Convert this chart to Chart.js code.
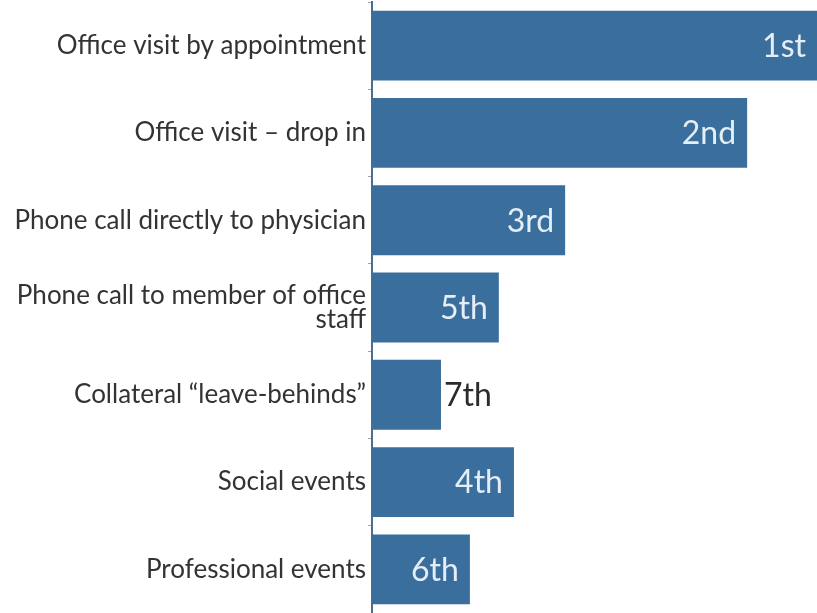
<!DOCTYPE html>
<html>
<head>
<meta charset="utf-8">
<script src="https://cdn.jsdelivr.net/npm/chart.js@4/dist/chart.umd.min.js"></script>
<style>
  html, body { margin: 0; padding: 0; background: #fff; }
  #wrap { width: 817px; height: 613px; }
</style>
</head>
<body>
<div id="wrap"><canvas id="myChart"></canvas></div>
<script>
const categories = [
  "Office visit by appointment",
  "Office visit \u2013 drop in",
  "Phone call directly to physician",
  ["Phone call to member of office", "staff"],
  "Collateral \u201cleave-behinds\u201d",
  "Social events",
  "Professional events"
];
const scores = [100, 84.3, 43.4, 28.5, 15.5, 31.9, 22.0];
const ranks = ["1st", "2nd", "3rd", "5th", "7th", "4th", "6th"];

const BAR = "#3a6e9d";

// rank text at the end of each bar; short bars get it outside in dark grey
const rankLabels = {
  id: "rankLabels",
  afterDatasetsDraw(chart) {
    const ctx = chart.ctx;
    const meta = chart.getDatasetMeta(0);
    ctx.save();
    ctx.font = "32px Lato, 'Open Sans', sans-serif";
    ctx.textBaseline = "middle";
    meta.data.forEach((bar, i) => {
      const txt = ranks[i];
      const w = ctx.measureText(txt).width;
      const len = bar.x - bar.base;
      if (len > w + 40) {
        ctx.fillStyle = "#e4eef6";
        ctx.textAlign = "right";
        ctx.fillText(txt, Math.min(bar.x, chart.chartArea.right) - 11, bar.y + 1);
      } else {
        ctx.fillStyle = "#2b2b2b";
        ctx.textAlign = "left";
        ctx.fillText(txt, bar.x + 3, bar.y + 1);
      }
    });
    ctx.restore();
  }
};

new Chart(document.getElementById("myChart"), {
  type: "bar",
  data: {
    labels: categories,
    datasets: [{
      data: scores,
      backgroundColor: BAR,
      borderWidth: 0,
      barPercentage: 0.8,
      categoryPercentage: 1.0
    }]
  },
  options: {
    indexAxis: "y",
    responsive: true,
    maintainAspectRatio: false,
    animation: false,
    layout: { padding: { top: 2, bottom: 0, left: 0, right: 0 } },
    plugins: {
      legend: { display: false },
      tooltip: { enabled: false }
    },
    scales: {
      x: {
        display: false,
        min: 0,
        max: 100
      },
      y: {
        afterFit(scale) {
          scale.width = 372;
          scale.paddingTop = 0;
          scale.paddingBottom = 0;
        },
        border: { display: true, color: "#4d6d8c", width: 2 },
        grid: {
          display: true,
          drawOnChartArea: false,
          drawTicks: true,
          tickLength: 4,
          tickColor: "#9aa4ad"
        },
        ticks: {
          color: "#333",
          padding: 2,
          font: { family: "Lato, 'Open Sans', sans-serif", size: 26, lineHeight: 0.92 },
          crossAlign: "near"
        }
      }
    }
  },
  plugins: [rankLabels]
});
</script>
</body>
</html>
